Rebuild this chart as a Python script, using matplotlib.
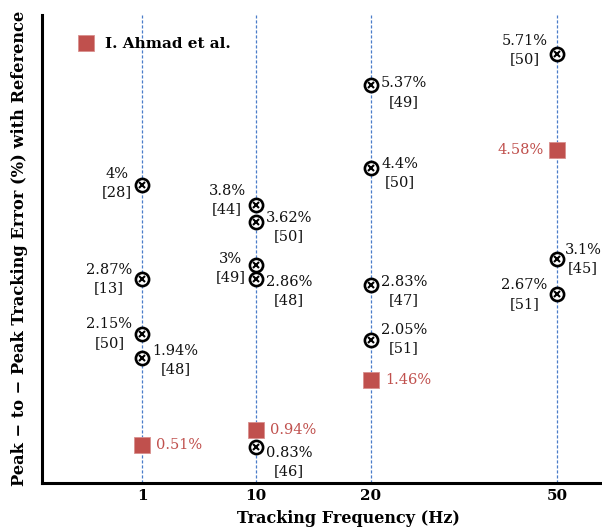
import matplotlib
matplotlib.use("Agg")
import matplotlib.pyplot as plt
from matplotlib.lines import Line2D

# Tracking frequency categories (Hz) and where each column sits on the axis
freq_labels = ['1', '10', '20', '50']
freq_pos = {'1': 1.0, '10': 1.99, '20': 3.0, '50': 4.63}

# Other published works: frequency, error (%) as labelled, plotted height, reference number
lit_freq = ['1', '1', '1', '1', '10', '10', '10', '10', '10',
            '20', '20', '20', '20', '50', '50', '50']
lit_err = [4.0, 2.87, 2.15, 1.94, 3.8, 3.62, 3.0, 2.86, 0.83,
           5.37, 4.4, 2.83, 2.05, 5.71, 3.1, 2.67]
lit_height = [4.06, 2.88, 2.20, 1.89, 3.81, 3.59, 3.06, 2.88, 0.78,
              5.30, 4.27, 2.81, 2.12, 5.69, 3.13, 2.70]
lit_ref = [28, 13, 50, 48, 44, 50, 49, 48, 46,
           49, 50, 47, 51, 50, 45, 51]

# This work (I. Ahmad et al.)
ahmad_freq = ['1', '10', '20', '50']
ahmad_err = [0.51, 0.94, 1.46, 4.58]
ahmad_height = [0.81, 0.99, 1.62, 4.49]

# label placement: horizontal shift (px, sign = side) and vertical shift in pixels
lit_dx = [-10, -10, -10, 10, -10, 10, -10, 10, 10,
          10, 10, 10, 10, -10, 7, -10]
lit_dy = [2, 0, 0, -2, 5, -5, -3, -12, -15,
          -7, -5, -6, 1, 4, 0, -1]
ahmad_side = [1, 1, 1, -1]

red = '#C0504D'
serif = 'DejaVu Serif'
plt.rcParams['font.family'] = serif

fig = plt.figure(figsize=(6.02, 5.30), dpi=100)
ax = fig.add_axes([41.7 / 602, 47.5 / 530, 1 - 41.7 / 602, 467.5 / 530])
ax.set_xlim(0.12, 5.02)
ax.set_ylim(0.34, 6.18)

# dashed guides for each frequency
for f in freq_labels:
    ax.axvline(freq_pos[f], color='#4A7CC9', lw=0.9, ls=(0, (2.5, 1.5)), zorder=1)

lx = [freq_pos[f] for f in lit_freq]
ax.plot(lx, lit_height, 'o', ms=9.5, mfc='white', mec='black', mew=1.9, zorder=3)
ax.plot(lx, lit_height, 'x', ms=5, mec='black', mew=1.5, zorder=4)

ax_x = [freq_pos[f] for f in ahmad_freq]
ax.plot(ax_x, ahmad_height, 's', ms=12, mfc=red, mec='#D9908E', mew=0.6, zorder=3)

for x, y, e, r, dx, dy in zip(lx, lit_height, lit_err, lit_ref, lit_dx, lit_dy):
    ax.annotate(f"{e:g}%\n[{r}]", (x, y), xytext=(dx, dy), textcoords='offset pixels',
                ha='left' if dx > 0 else 'right', va='center', multialignment='center',
                fontsize=10.5, linespacing=1.4, color='#111111')

for x, y, e, s in zip(ax_x, ahmad_height, ahmad_err, ahmad_side):
    ax.annotate(f"{e:g}%", (x, y), xytext=(s * 14, 0), textcoords='offset pixels',
                ha='left' if s > 0 else 'right', va='center', fontsize=10.5, color=red)

ax.spines['top'].set_visible(False)
ax.spines['right'].set_visible(False)
ax.spines['left'].set_linewidth(2.2)
ax.spines['bottom'].set_linewidth(2.2)
ax.set_yticks([])
ax.set_xticks([freq_pos[f] for f in freq_labels])
ax.set_xticklabels(freq_labels, fontweight='bold', fontsize=11)
ax.tick_params(axis='x', length=0, pad=5)

ax.set_xlabel('Tracking Frequency (Hz)', fontweight='bold', fontsize=11.5, va='center')
ax.xaxis.set_label_coords(0.548, -0.077)
ax.set_ylabel('Peak − to − Peak Tracking Error (%) with Reference', fontweight='bold',
              fontsize=11.7, labelpad=10)

handle = Line2D([], [], marker='s', ls='none', ms=12, mfc=red, mec='#D9908E', mew=0.6)
ax.legend([handle], ['I. Ahmad et al.'], loc='center left', bbox_to_anchor=(78.7 / 602, 1 - 44 / 530),
          bbox_transform=fig.transFigure, frameon=False, borderpad=0, borderaxespad=0,
          handlelength=1, handletextpad=0.75, prop={'family': serif, 'weight': 'bold', 'size': 11})

fig.savefig('out.png', dpi=100)
